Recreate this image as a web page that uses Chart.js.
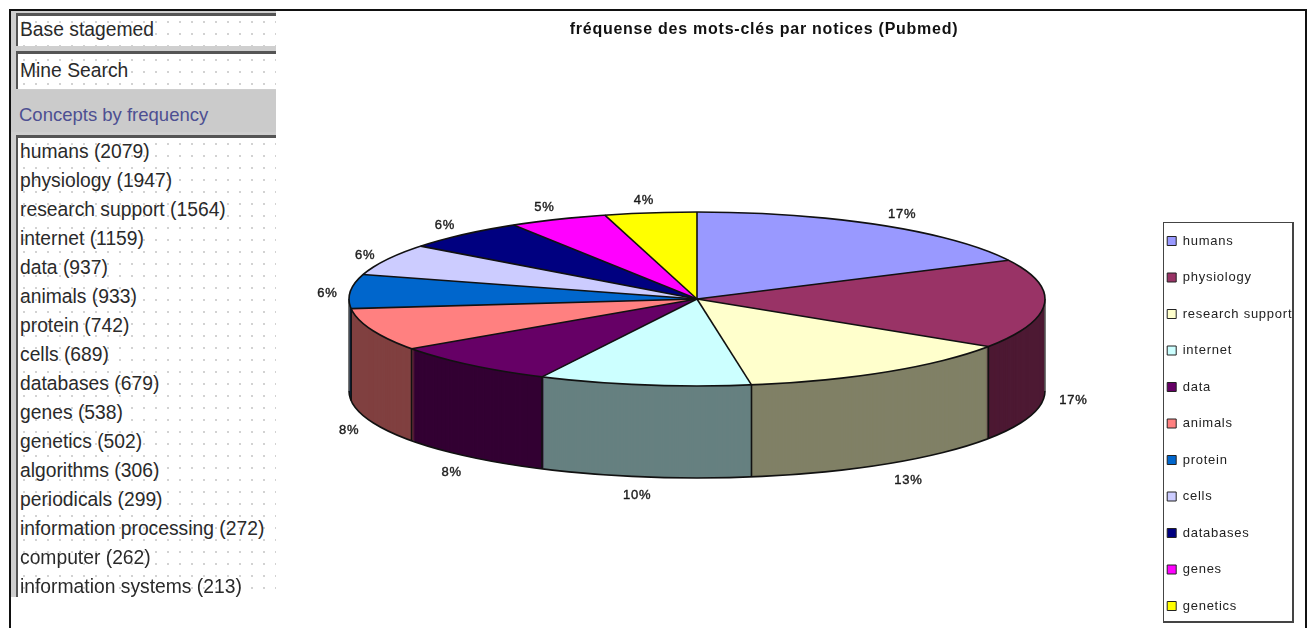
<!DOCTYPE html>
<html>
<head>
<meta charset="utf-8">
<script src="https://cdn.jsdelivr.net/npm/chart.js@4"></script>
<style>
html,body{margin:0;padding:0;background:#fff;width:1309px;height:628px;overflow:hidden;font-family:"Liberation Sans",Arial,sans-serif}
#stage{position:absolute;left:0;top:0;width:1309px;height:628px;filter:blur(.45px)}
canvas{position:absolute;left:0;top:0}
.abs{position:absolute}
#panel{left:10px;top:11px;width:266px;height:586px;background:#cfcfcf}
.field{position:absolute;left:6px;width:260px;background-color:#fff;
 background-image:radial-gradient(#cfcfcf .7px,transparent .8px);background-size:12px 12px;
 border-top:3px solid #555;border-left:2px solid #555;box-sizing:border-box}
.txt{font-size:19.3px;color:#2a2a2a;white-space:nowrap;line-height:24px;position:absolute;left:2px}
#band{position:absolute;left:0;top:79px;width:266px;height:42px;background:#cbcbcb}
#band span{position:absolute;left:9px;top:13px;font-size:18.5px;color:#4d4f92;line-height:24px}
</style>
</head>
<body>
<div id="stage">
  <div class="abs" id="panel">
    <div class="field" style="top:2px;height:33px"><div class="txt" style="top:2px">Base stagemed</div></div>
    <div class="field" style="top:40px;height:38px"><div class="txt" style="top:5px">Mine Search</div></div>
    <div id="band"><span>Concepts by frequency</span></div>
    <div class="field" id="list" style="top:124px;height:462px"></div>
  </div>
  <canvas id="c" width="1309" height="628"></canvas>
  <div class="abs" style="left:9px;top:9px;width:1296px;height:2px;background:#111"></div>
  <div class="abs" style="left:9px;top:9px;width:2px;height:619px;background:#111"></div>
  <div class="abs" style="left:1305px;top:9px;width:2px;height:619px;background:#111"></div>
  <div class="abs" style="left:1163px;top:222px;width:128px;height:398px;border:1px solid #444;border-right-width:2px;border-bottom-width:2px"></div>
</div>
<script>
const titleText = "fréquense des mots-clés par notices (Pubmed)";
const concepts = ["humans","physiology","research support","internet","data","animals","protein","cells","databases","genes","genetics","algorithms","periodicals","information processing","computer","information systems"];
const counts = [2079,1947,1564,1159,937,933,742,689,679,538,502,306,299,272,262,213];
const categories = ["humans","physiology","research support","internet","data","animals","protein","cells","databases","genes","genetics"];
const values = [2079,1947,1564,1159,937,933,742,689,679,538,502];
const percentLabels = ["17%","17%","13%","10%","8%","8%","6%","6%","6%","5%","4%"];
const topColors = ["#9999FF","#993366","#FFFFCC","#CCFFFF","#660066","#FF8080","#0066CC","#CCCCFF","#000080","#FF00FF","#FFFF00"];
const sideColors = ["#4D4D80","#4D1933","#808066","#668080","#330033","#804040","#003366","#666680","#000040","#800080","#808000"];

const FONT = '"Liberation Sans", Arial, sans-serif';
const CX = 697, CY = 299, RADIUS = 348, SQUASH = 0.25, DEPTH = 92;

const list = document.getElementById('list');
concepts.forEach((name, i) => {
  const d = document.createElement('div');
  d.className = 'txt';
  d.style.top = (2 + i * 29) + 'px';
  d.textContent = name + ' (' + counts[i] + ')';
  list.appendChild(d);
});

function faceOptions(el, color) {
  return {backgroundColor: color, borderColor: color, borderWidth: 0, offset: 0, spacing: 0,
          borderRadius: 0, circular: true, borderAlign: 'center', borderJoinStyle: 'round'};
}

const pie3d = {
  id: 'pie3d',
  beforeDraw(chart) { chart.ctx.letterSpacing = '0.75px'; },
  afterLayout(chart) {
    const lg = chart.legend;
    lg.left = 1143.7; lg.right = 1293; lg.top = 211; lg.bottom = 660;
    lg.width = lg.right - lg.left; lg.height = lg.bottom - lg.top;
  },
  beforeDatasetsDraw(chart) {
    const ctx = chart.ctx;
    const arcs = chart.getDatasetMeta(0).data;
    const ax = arcs[0].x, ay = arcs[0].y, r = arcs[0].outerRadius;
    const place = dy => {
      ctx.translate(CX, CY + dy);
      ctx.scale(1, SQUASH);
      ctx.translate(-ax, -ay);
    };
    const drawFace = (el, color, dy) => {
      const saved = el.options;
      el.options = faceOptions(el, color);
      ctx.save(); place(dy); el.draw(ctx); ctx.restore();
      el.options = saved;
    };
    const rim = a => [CX + r * Math.cos(a), CY + r * SQUASH * Math.sin(a)];

    // extruded wall, built from the arc elements themselves
    for (let dy = DEPTH; dy > 0; dy--) {
      arcs.forEach((el, i) => drawFace(el, sideColors[i], dy));
    }
    // wall outlines
    ctx.save();
    ctx.strokeStyle = '#111'; ctx.lineWidth = 1.6;
    ctx.beginPath();
    ctx.ellipse(CX, CY + DEPTH, r, r * SQUASH, 0, 0, Math.PI);
    ctx.stroke();
    ctx.strokeStyle = '#555';
    [0, Math.PI].forEach(a => {
      const p = rim(a);
      ctx.beginPath(); ctx.moveTo(p[0], p[1]); ctx.lineTo(p[0], p[1] + DEPTH); ctx.stroke();
    });
    ctx.strokeStyle = '#111';
    arcs.forEach(el => {
      const a = el.endAngle;
      if (Math.sin(a) > 0) {
        const p = rim(a);
        ctx.beginPath(); ctx.moveTo(p[0], p[1]); ctx.lineTo(p[0], p[1] + DEPTH); ctx.stroke();
      }
    });
    ctx.restore();

    // top faces
    arcs.forEach((el, i) => drawFace(el, topColors[i], 0));
    // top outlines
    ctx.save();
    ctx.strokeStyle = '#111'; ctx.lineWidth = 1.6;
    arcs.forEach(el => {
      const p = rim(el.startAngle);
      ctx.beginPath(); ctx.moveTo(CX, CY); ctx.lineTo(p[0], p[1]); ctx.stroke();
    });
    ctx.beginPath();
    ctx.ellipse(CX, CY, r, r * SQUASH, 0, 0, Math.PI * 2);
    ctx.stroke();
    ctx.restore();

    // percentage labels
    ctx.save();
    ctx.font = '13px ' + FONT;
    ctx.fillStyle = '#1c1c1c';
    ctx.strokeStyle = '#1c1c1c';
    ctx.lineWidth = 0.4;
    ctx.textAlign = 'center';
    ctx.textBaseline = 'middle';
    arcs.forEach((el, i) => {
      const mid = (el.startAngle + el.endAngle) / 2;
      const c = Math.cos(mid), s = Math.sin(mid);
      const p = rim(mid);
      const x = p[0] + 3 + 26 * Math.sign(c) * Math.sqrt(Math.abs(c));
      const y = p[1] + 3 + 16 * s + (s > 0.05 ? DEPTH : 0);
      ctx.fillText(percentLabels[i], x, y);
      ctx.strokeText(percentLabels[i], x, y);
    });
    ctx.restore();
    return false;
  }
};

new Chart(document.getElementById('c'), {
  type: 'pie',
  data: {
    labels: categories,
    datasets: [{
      data: values,
      backgroundColor: topColors,
      borderColor: '#222',
      borderWidth: 1,
      radius: RADIUS
    }]
  },
  options: {
    responsive: false,
    animation: false,
    events: [],
    layout: {padding: {left: 235, right: 16, top: 0, bottom: 0}},
    plugins: {
      tooltip: {enabled: false},
      title: {
        display: true,
        text: titleText,
        color: '#111',
        font: {family: FONT, size: 16, weight: 'bold'},
        padding: {top: 20, bottom: 0}
      },
      legend: {
        display: true,
        position: 'right',
        align: 'start',
        labels: {
          boxWidth: 9,
          boxHeight: 9,
          color: '#222',
          padding: 23.5,
          font: {family: FONT, size: 13}
        }
      }
    }
  },
  plugins: [pie3d]
});
</script>
</body>
</html>
